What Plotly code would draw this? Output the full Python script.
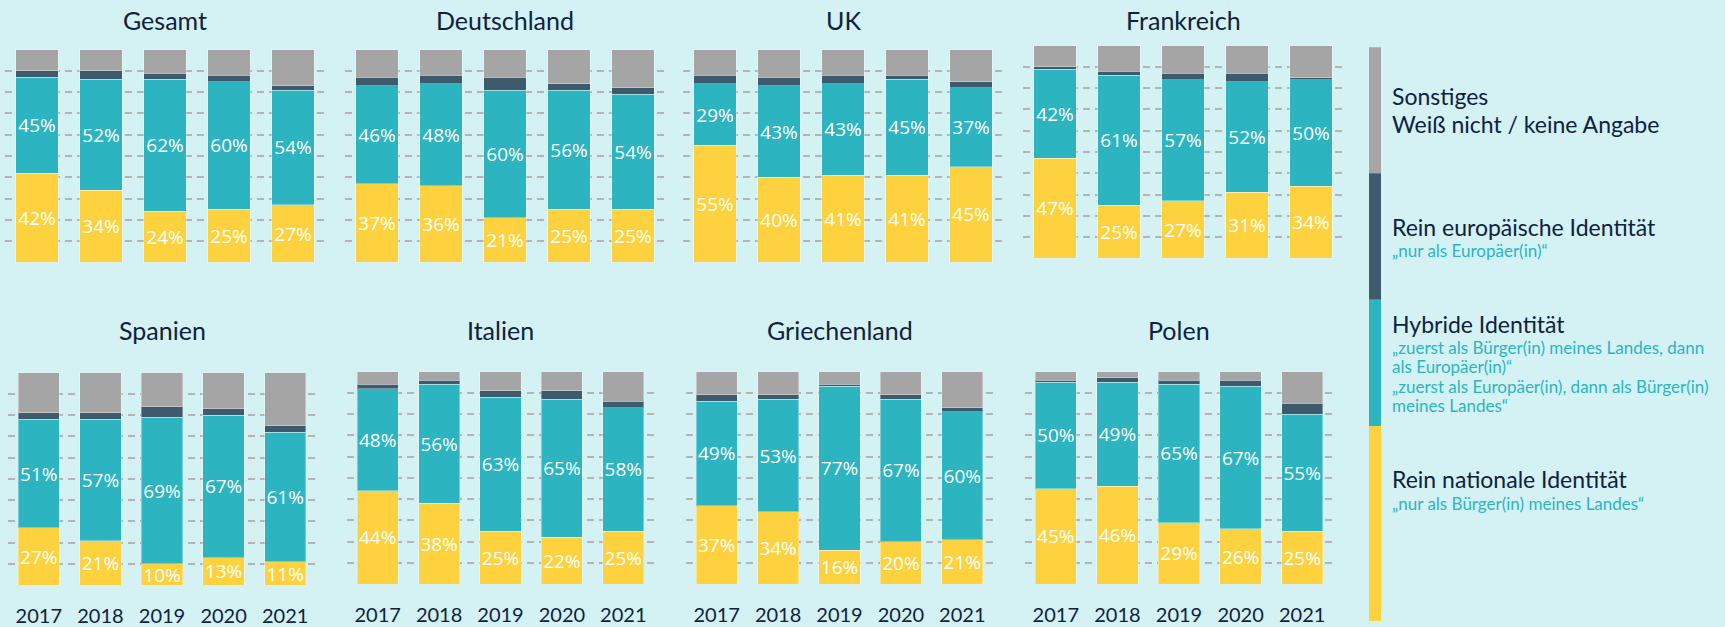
import plotly.graph_objects as go

W, H = 1725, 627

years = ["2017", "2018", "2019", "2020", "2021"]
regions = ["Gesamt", "Deutschland", "UK", "Frankreich",
           "Spanien", "Italien", "Griechenland", "Polen"]

# Rein nationale Identität
national = {
    "Gesamt": [42, 34, 24, 25, 27],
    "Deutschland": [37, 36, 21, 25, 25],
    "UK": [55, 40, 41, 41, 45],
    "Frankreich": [47, 25, 27, 31, 34],
    "Spanien": [27, 21, 10, 13, 11],
    "Italien": [44, 38, 25, 22, 25],
    "Griechenland": [37, 34, 16, 20, 21],
    "Polen": [45, 46, 29, 26, 25],
}
# Hybride Identität
hybrid = {
    "Gesamt": [45, 52, 62, 60, 54],
    "Deutschland": [46, 48, 60, 56, 54],
    "UK": [29, 43, 43, 45, 37],
    "Frankreich": [42, 61, 57, 52, 50],
    "Spanien": [51, 57, 69, 67, 61],
    "Italien": [48, 56, 63, 65, 58],
    "Griechenland": [49, 53, 77, 67, 60],
    "Polen": [50, 49, 65, 67, 55],
}
# Rein europäische Identität (estimated)
european = {
    "Gesamt": [3, 4, 3, 3, 2],
    "Deutschland": [4, 4, 6, 3, 3],
    "UK": [4, 4, 4, 2, 3],
    "Frankreich": [1, 2, 3, 4, 1],
    "Spanien": [3, 3, 5, 3, 3],
    "Italien": [2, 2, 3, 4, 3],
    "Griechenland": [3, 2, 1, 2, 2],
    "Polen": [1, 2, 2, 3, 5],
}
# Sonstiges / Weiß nicht / keine Angabe (estimated)
other = {
    "Gesamt": [10, 10, 11, 12, 17],
    "Deutschland": [13, 12, 13, 16, 18],
    "UK": [12, 13, 12, 12, 15],
    "Frankreich": [10, 12, 13, 13, 15],
    "Spanien": [19, 19, 16, 17, 25],
    "Italien": [6, 4, 9, 9, 14],
    "Griechenland": [11, 11, 6, 11, 17],
    "Polen": [4, 3, 4, 4, 15],
}

# panel boxes in pixels: x0, x1, y0(top), y1(bottom)
panels = {
    "Gesamt": (5, 325, 50, 265),
    "Deutschland": (345, 665, 50, 265),
    "UK": (683, 1003, 50, 265),
    "Frankreich": (1023, 1343, 46, 261),
    "Spanien": (8, 316, 376, 591),
    "Italien": (347, 654, 375, 590),
    "Griechenland": (686, 993, 375, 590),
    "Polen": (1025, 1333, 375, 590),
}
bottom_row = {"Spanien", "Italien", "Griechenland", "Polen"}

BG = "#d4f1f4"
YELLOW = "#fdd23e"
TEAL = "#2cb5c0"
DARK = "#3e5b6d"
GRAY = "#a5a5a5"
NAVY = "#0e2240"
LABEL_FONT = "Open Sans"
TITLE_FONT = "Lato"

fig = go.Figure()
layout_axes = {}
annotations = []

for i, reg in enumerate(regions):
    n = i + 1
    xa = "x" if n == 1 else f"x{n}"
    ya = "y" if n == 1 else f"y{n}"
    x0, x1, y0, y1 = panels[reg]
    series = [
        (national[reg], YELLOW, True),
        (hybrid[reg], TEAL, True),
        (european[reg], DARK, False),
        (other[reg], GRAY, False),
    ]
    for vals, col, lab in series:
        fig.add_trace(go.Bar(
            x=years, y=vals, xaxis=xa, yaxis=ya,
            marker=dict(color=col, line=dict(color="rgba(255,255,255,0.35)", width=1)),
            text=[f"{v}%" for v in vals] if lab else None,
            textposition="inside" if lab else "none",
            insidetextanchor="middle",
            textangle=0,
            textfont=dict(color="white", size=19, family=LABEL_FONT),
            showlegend=False, hoverinfo="skip",
        ))
    xkey = "xaxis" if n == 1 else f"xaxis{n}"
    ykey = "yaxis" if n == 1 else f"yaxis{n}"
    layout_axes[xkey] = dict(
        domain=[x0 / W, x1 / W], anchor=ya, type="category",
        range=[-0.5, 4.5], showgrid=False, zeroline=False, showline=False,
        showticklabels=reg in bottom_row,
        ticks="outside", ticklen=13, tickcolor="rgba(0,0,0,0)",
        tickfont=dict(size=20, color=NAVY, family=TITLE_FONT),
    )
    layout_axes[ykey] = dict(
        domain=[1 - y1 / H, 1 - y0 / H], anchor=xa,
        range=[-0.05, 100.05], dtick=10, tick0=0,
        showgrid=True, gridcolor="#b4b4b4", griddash="7px,5px", gridwidth=1.5,
        zeroline=False, showline=False, showticklabels=False,
    )
    ty = 20 if reg not in bottom_row else 333
    annotations.append(dict(
        x=(x0 + x1) / 2 / W, y=1 - ty / H, xref="paper", yref="paper",
        text=reg, showarrow=False, xanchor="center", yanchor="middle",
        font=dict(size=25, color=NAVY, family=TITLE_FONT),
    ))

# legend
leg_x0, leg_x1 = 1369, 1381
leg_segments = [(47.7, 175, GRAY), (175, 302.7, DARK), (302.7, 430, TEAL), (430, 627, YELLOW)]
shapes = []
for a, b, col in leg_segments:
    shapes.append(dict(type="rect", xref="paper", yref="paper",
                       x0=leg_x0 / W, x1=leg_x1 / W, y0=1 - b / H, y1=1 - a / H,
                       fillcolor=col, line=dict(width=0), layer="above"))

tx = 1390 / W
def leg_text(y, text, size, color):
    annotations.append(dict(
        x=tx, y=1 - y / H, xref="paper", yref="paper", text=text, showarrow=False,
        xanchor="left", yanchor="middle", align="left",
        font=dict(size=size, color=color, family=TITLE_FONT)))

leg_text(97, "Sonstiges", 23, NAVY)
leg_text(125, "Weiß nicht / keine Angabe", 23, NAVY)
leg_text(229, "Rein europäische Identität", 23, NAVY)
leg_text(253, "„nur als Europäer(in)“", 17, TEAL)
leg_text(327, "Hybride Identität", 23, NAVY)
leg_text(351, "„zuerst als Bürger(in) meines Landes, dann", 17, TEAL)
leg_text(370.5, "als Europäer(in)“", 17, TEAL)
leg_text(390, "„zuerst als Europäer(in), dann als Bürger(in)", 17, TEAL)
leg_text(409.5, "meines Landes“", 17, TEAL)
leg_text(484, "Rein nationale Identität", 23, NAVY)
leg_text(508, "„nur als Bürger(in) meines Landes“", 17, TEAL)

fig.update_layout(
    width=W, height=H, margin=dict(l=0, r=0, t=0, b=0),
    paper_bgcolor=BG, plot_bgcolor=BG,
    barmode="stack", bargap=0.33,
    uniformtext=dict(minsize=19, mode="show"),
    annotations=annotations, shapes=shapes,
    **layout_axes,
)

fig.write_html(
    "out.html",
    config={"displayModeBar": False},
    post_script="document.body.style.margin='0';document.body.style.overflow='hidden';",
)
